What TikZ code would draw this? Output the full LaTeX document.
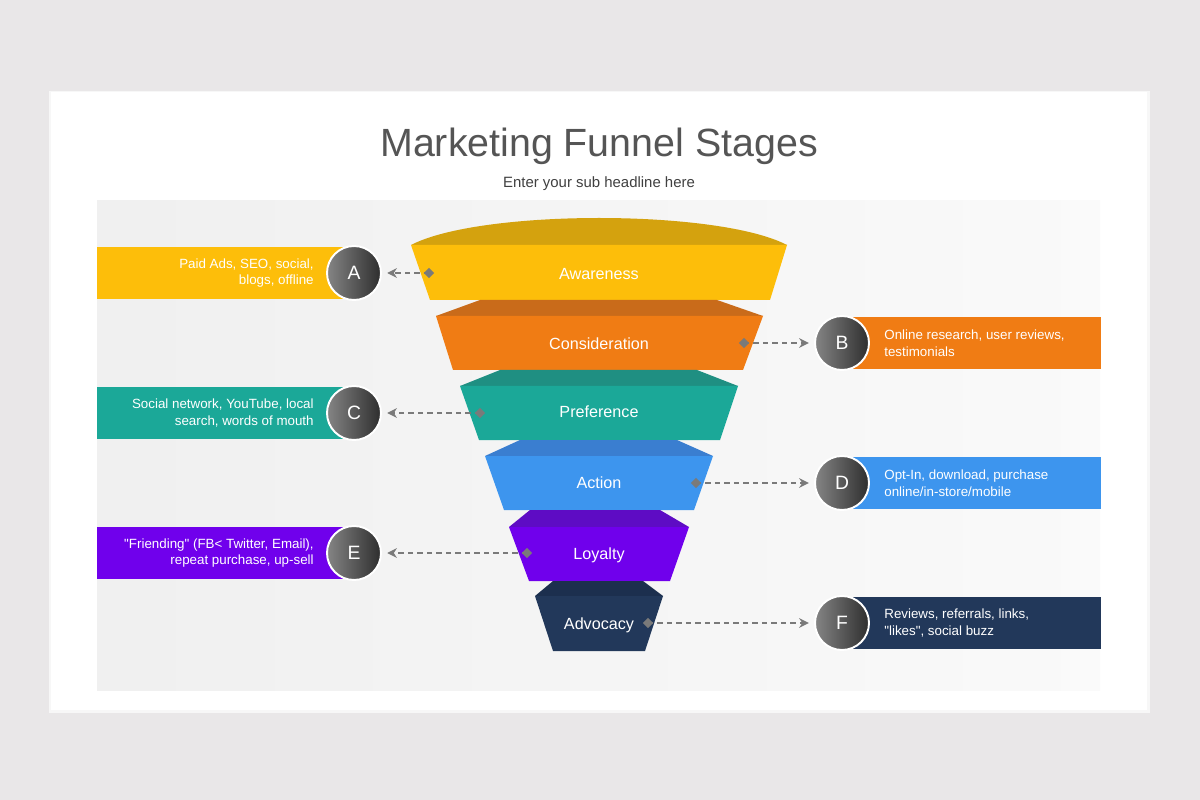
\documentclass[tikz,border=0pt]{standalone}
\usepackage{fontspec}
\setmainfont{Liberation Sans}
\usetikzlibrary{shapes.geometric}
\usetikzlibrary{arrows.meta}
\usetikzlibrary{calc}
\usetikzlibrary{positioning}
\definecolor{pagegray}{HTML}{E9E7E8}
\definecolor{titlegray}{HTML}{555555}
\definecolor{awareC}{HTML}{D4A20E}
\definecolor{aware}{HTML}{FDBE0A}
\definecolor{considC}{HTML}{C96B1A}
\definecolor{consid}{HTML}{F07C14}
\definecolor{prefC}{HTML}{1F8F82}
\definecolor{pref}{HTML}{1BA898}
\definecolor{actC}{HTML}{3A7ED0}
\definecolor{act}{HTML}{3D95EE}
\definecolor{loyalC}{HTML}{5E0CC4}
\definecolor{loyal}{HTML}{7000EC}
\definecolor{advoC}{HTML}{1C2F4E}
\definecolor{advo}{HTML}{22385A}
\definecolor{linkgray}{HTML}{7A7A7A}

\begin{document}
\begin{tikzpicture}[x=0.02cm,y=-0.02cm,
    stage/.style={text=white,anchor=base,font=\fontsize{9.2}{11}\selectfont},
    letter/.style={circle,draw=white,line width=1.1pt,minimum size=1.08cm,inner sep=0pt,
        left color=black!48,right color=black!82,text=white,font=\fontsize{11}{13}\selectfont},
    tagleft/.style={anchor=east,align=right,text=white,inner sep=0pt,font=\fontsize{7.6}{9.4}\selectfont},
    tagright/.style={anchor=west,align=left,text=white,inner sep=0pt,font=\fontsize{7.6}{9.4}\selectfont},
    pin/.style={diamond,fill=linkgray,inner sep=0pt,minimum size=6pt},
    link/.style={linkgray,line width=1pt,dash pattern=on 3pt off 2.4pt,-{Stealth[length=5.5pt,width=5.5pt]},shorten >=3pt}]
    \useasboundingbox (0,0) rectangle (1200,800);
    \fill[pagegray] (0,0) rectangle (1200,800);
    \fill[black!3] (49,91) rectangle (1150,713);
    \fill[white] (51,92) rectangle (1147,710);
    \shade[left color=black!6,right color=black!2] (97,201) rectangle (1100,690);

    \node[anchor=base,text=titlegray,font=\fontsize{22.4}{26}\selectfont] (title) at (599,157) {Marketing Funnel Stages};
    \node[anchor=base,text=black!75,font=\fontsize{8.5}{10}\selectfont] (subtitle) at (599,188) {Enter your sub headline here};

    % funnel
    \fill[awareC] (411,245) .. controls (480,209) and (718,209) .. (787,245) -- cycle;
    \fill[aware] (411,245) -- (787,245) -- (770,300) -- (430,300) -- cycle;
    \fill[considC] (436,316) -- (480,300) -- (717,300) -- (763,316) -- cycle;
    \fill[consid] (436,316) -- (763,316) -- (743,370) -- (453,370) -- cycle;
    \fill[prefC] (460,386) -- (500,370) -- (697,370) -- (738,386) -- cycle;
    \fill[pref] (460,386) -- (738,386) -- (720,440) -- (479,440) -- cycle;
    \fill[actC] (485,456) -- (520,440) -- (677,440) -- (713,456) -- cycle;
    \fill[act] (485,456) -- (713,456) -- (694,510) -- (504,510) -- cycle;
    \fill[loyalC] (509,527) -- (530,510) -- (660,510) -- (689,527) -- cycle;
    \fill[loyal] (509,527) -- (689,527) -- (670,581) -- (529,581) -- cycle;
    \fill[advoC] (535,596) -- (553,581) -- (643,581) -- (663,596) -- cycle;
    \fill[advo] (535,596) -- (663,596) -- (645,651) -- (553,651) -- cycle;

    \node[stage] (awareness) at (599,280) {Awareness};
    \node[stage] (consideration) at (599,350) {Consideration};
    \node[stage] (preference) at (599,418) {Preference};
    \node[stage] (action) at (599,488) {Action};
    \node[stage] (loyalty) at (599,559) {Loyalty};
    \node[stage] (advocacy) at (599,629) {Advocacy};

    % side tags
    \fill[aware] (97,247) rectangle (354,299);
    \fill[pref] (97,387) rectangle (354,439);
    \fill[loyal] (97,527) rectangle (354,579);
    \fill[consid] (842,317) rectangle (1101,369);
    \fill[act] (842,457) rectangle (1101,509);
    \fill[advo] (842,597) rectangle (1101,649);

    \node[tagleft] (tagA) at (314,273) {Paid Ads, SEO, social,\\blogs, offline};
    \node[tagleft] (tagC) at (314,413) {Social network, YouTube, local\\search, words of mouth};
    \node[tagleft] (tagE) at (314,553) {\textquotedbl Friending\textquotedbl\ (FB< Twitter, Email),\\repeat purchase, up-sell};
    \node[tagright] (tagB) at (884,343) {Online research, user reviews,\\testimonials};
    \node[tagright] (tagD) at (884,483) {Opt-In, download, purchase\\online/in-store/mobile};
    \node[tagright] (tagF) at (884,623) {Reviews, referrals, links,\\\textquotedbl likes\textquotedbl, social buzz};

    \node[letter] (A) at (354,273) {A};
    \node[letter] (C) at (354,413) {C};
    \node[letter] (E) at (354,553) {E};
    \node[letter] (B) at (842,343) {B};
    \node[letter] (D) at (842,483) {D};
    \node[letter] (F) at (842,623) {F};

    % links
    \node[pin] (pinA) at (429,273) {};
    \node[pin] (pinB) at (744,343) {};
    \node[pin] (pinC) at (480,413) {};
    \node[pin] (pinD) at (696,483) {};
    \node[pin] (pinE) at (527,553) {};
    \node[pin] (pinF) at (648,623) {};
    \draw[link] (pinA.center) -- (A);
    \draw[link] (pinB.center) -- (B);
    \draw[link] (pinC.center) -- (C);
    \draw[link] (pinD.center) -- (D);
    \draw[link] (pinE.center) -- (E);
    \draw[link] (pinF.center) -- (F);
\end{tikzpicture}
\end{document}
